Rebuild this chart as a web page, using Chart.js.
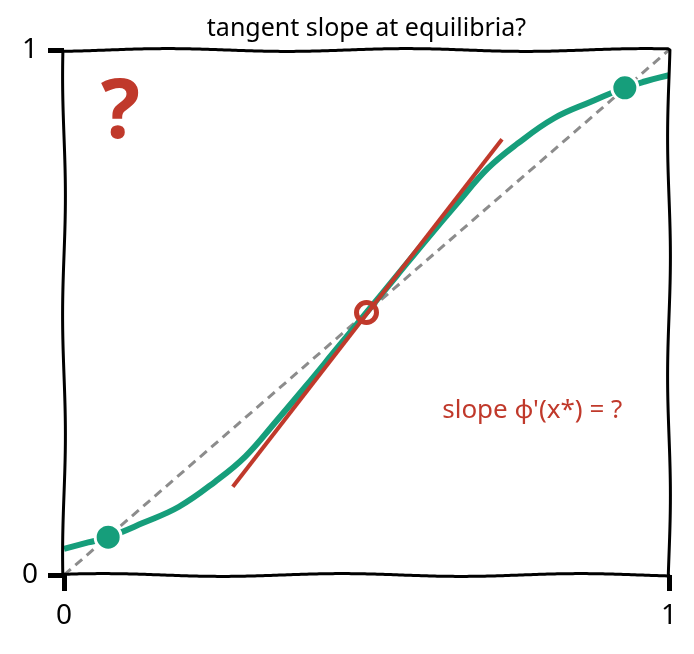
<!DOCTYPE html>
<html>
<head>
<meta charset="utf-8">
<script src="https://cdn.jsdelivr.net/npm/chart.js@4/dist/chart.umd.min.js"></script>
<style>
  html, body { margin: 0; padding: 0; background: #fff; }
  #wrap { width: 694px; height: 654px; }
</style>
</head>
<body>
<div id="wrap"><canvas id="eqChart" width="694" height="654"></canvas></div>
<script>
// data
const curveX = [0, 0.04, 0.073, 0.13, 0.19, 0.25, 0.30, 0.35, 0.40, 0.45, 0.50, 0.55, 0.60, 0.65, 0.70, 0.75, 0.81, 0.87, 0.927, 0.96, 1.0];
const curveY = [0.05, 0.062, 0.072, 0.099, 0.13, 0.178, 0.226, 0.292, 0.36, 0.43, 0.50, 0.57, 0.64, 0.708, 0.774, 0.822, 0.87, 0.901, 0.928, 0.94, 0.952];
const diagX = [0, 1];
const diagY = [0, 1];
const tangentX = [0.279, 0.724];
const tangentY = [0.168, 0.83];
const stableX = [0.073, 0.927];
const stableY = [0.072, 0.928];
const unstableX = [0.5];
const unstableY = [0.5];
const tickValues = [0, 1];
const titleText = 'tangent slope at equilibria?';
const slopeText = "slope \u03c6'(x*) = ?";
const slopePos = [0.774, 0.314];
const questionPos = [0.093, 0.876];

const green = '#169e7b';
const red = '#c0392b';
const font = "'Noto Sans', sans-serif";

const pts = (xs, ys) => xs.map((x, i) => ({ x: x, y: ys[i] }));

// hand-drawn looking frame
const framePlugin = {
  id: 'frame',
  afterDatasetsDraw(chart) {
    const a = chart.chartArea;
    const c = chart.ctx;
    c.save();
    c.strokeStyle = '#000';
    c.lineWidth = 3;
    c.lineJoin = 'round';
    c.beginPath();
    const wob = (t, ph) => 1.4 * Math.sin(t / 38 + ph);
    for (let x = a.left; x <= a.right; x += 2) {
      const y = a.top + wob(x, 0.3);
      x === a.left ? c.moveTo(x, y) : c.lineTo(x, y);
    }
    for (let y = a.top; y <= a.bottom; y += 2) c.lineTo(a.right + wob(y, 1.1), y);
    for (let x = a.right; x >= a.left; x -= 2) c.lineTo(x, a.bottom + wob(x, 2.0));
    for (let y = a.bottom; y >= a.top; y -= 2) c.lineTo(a.left + wob(y, 2.7), y);
    c.closePath();
    c.stroke();
    c.restore();
  }
};

const notesPlugin = {
  id: 'notes',
  afterDraw(chart) {
    const c = chart.ctx;
    const xs = chart.scales.x, ys = chart.scales.y;
    c.save();
    c.fillStyle = red;
    c.textAlign = 'center';
    c.textBaseline = 'middle';
    c.font = "bold 82px " + font;
    c.fillText('?', xs.getPixelForValue(questionPos[0]), ys.getPixelForValue(questionPos[1]));
    c.font = "26px " + font;
    c.fillText(slopeText, xs.getPixelForValue(slopePos[0]), ys.getPixelForValue(slopePos[1]));
    c.restore();
  }
};

new Chart(document.getElementById('eqChart'), {
  type: 'scatter',
  data: {
    datasets: [
      {
        data: pts(diagX, diagY),
        showLine: true,
        borderColor: '#8c8c8c',
        borderWidth: 3,
        borderDash: [9, 6],
        pointRadius: 0,
        order: 5
      },
      {
        data: pts(curveX, curveY),
        showLine: true,
        borderColor: green,
        borderWidth: 6,
        tension: 0.4,
        pointRadius: 0,
        order: 4
      },
      {
        data: pts(tangentX, tangentY),
        showLine: true,
        borderColor: red,
        borderWidth: 4,
        pointRadius: 0,
        order: 3
      },
      {
        data: pts(stableX, stableY),
        backgroundColor: green,
        borderColor: '#fff',
        borderWidth: 3,
        pointRadius: 13,
        order: 2
      },
      {
        data: pts(unstableX, unstableY),
        backgroundColor: 'rgba(0,0,0,0)',
        borderColor: red,
        borderWidth: 5,
        pointRadius: 10,
        order: 1
      }
    ]
  },
  options: {
    responsive: false,
    animation: false,
    events: [],
    layout: { padding: { top: 0, right: 25, left: 0, bottom: 0 } },
    plugins: {
      legend: { display: false },
      tooltip: { enabled: false },
      title: {
        display: true,
        text: titleText,
        fullSize: false,
        color: '#000',
        font: { family: font, size: 25, weight: 'normal' },
        padding: { top: 14, bottom: 6 }
      }
    },
    scales: {
      x: {
        type: 'linear',
        min: 0,
        max: 1,
        afterBuildTicks: s => { s.ticks = tickValues.map(v => ({ value: v })); },
        afterFit: s => { s.height = 79; },
        border: { display: false },
        grid: { drawOnChartArea: false, drawTicks: true, tickLength: 16, tickWidth: 5, tickColor: '#000' },
        ticks: { color: '#000', padding: 8, font: { family: font, size: 28 } }
      },
      y: {
        type: 'linear',
        min: 0,
        max: 1,
        afterBuildTicks: s => { s.ticks = tickValues.map(v => ({ value: v })); },
        afterFit: s => { s.width = 64; },
        border: { display: false },
        grid: { drawOnChartArea: false, drawTicks: true, tickLength: 16, tickWidth: 5, tickColor: '#000' },
        ticks: { color: '#000', padding: 10, font: { family: font, size: 28 } }
      }
    }
  },
  plugins: [framePlugin, notesPlugin]
});
</script>
</body>
</html>
